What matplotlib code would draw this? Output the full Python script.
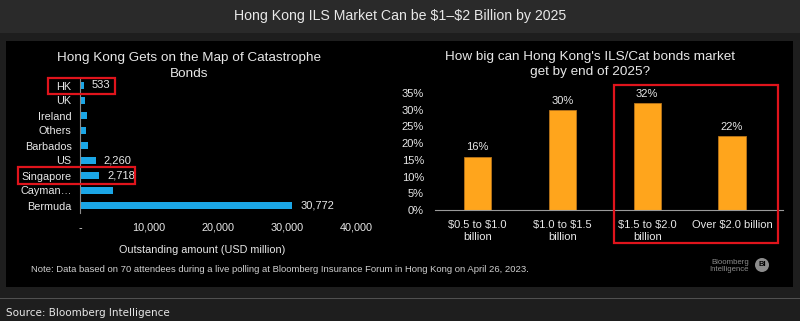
import matplotlib
matplotlib.use("Agg")
import matplotlib.pyplot as plt
from matplotlib.patches import Rectangle, Ellipse
from matplotlib.ticker import FuncFormatter, PercentFormatter

# left chart: outstanding cat bonds by domicile (USD million), top to bottom
domiciles = ["HK", "UK", "Ireland", "Others", "Barbados", "US", "Singapore", "Cayman\u2026", "Bermuda"]
outstanding = [533, 700, 950, 900, 1150, 2260, 2718, 4750, 30772]
labelled = ["HK", "US", "Singapore", "Bermuda"]

# right chart: poll on market size by end of 2025
size_buckets = ["\\$0.5 to \\$1.0\nbillion", "\\$1.0 to \\$1.5\nbillion", "\\$1.5 to \\$2.0\nbillion", "Over \\$2.0 billion"]
poll_share = [0.16, 0.30, 0.32, 0.22]

W, H = 800, 321
FONT = "Liberation Sans"
TXT = "#e8e8e8"
BLUE = "#1ba6e6"
ORANGE = "#ffa51c"
RED = "#e0141c"

plt.rcParams["font.family"] = [FONT, "DejaVu Sans"]


def px(x0, y0, x1, y1):
    """pixel box (top-left origin) -> figure fraction rect"""
    return [x0 / W, 1 - y1 / H, (x1 - x0) / W, (y1 - y0) / H]


fig = plt.figure(figsize=(W / 100, H / 100), dpi=100, facecolor="#1e1e1e")

# header band, black panel, footer separator
fig.patches.append(Rectangle((0, 1 - 33 / H), 1, 33 / H, transform=fig.transFigure,
                             facecolor="#2a2a2a", edgecolor="none", zorder=0))
fig.patches.append(Rectangle((6 / W, 1 - 287 / H), 787 / W, 246 / H, transform=fig.transFigure,
                             facecolor="black", edgecolor="none", zorder=0))
fig.patches.append(Rectangle((0, 1 - 299 / H), 1, 1.5 / H, transform=fig.transFigure,
                             facecolor="#505050", edgecolor="none", zorder=0))

fig.text(0.5, 1 - 16 / H, "Hong Kong ILS Market Can be \\$1\u2013\\$2 Billion by 2025",
         ha="center", va="center", color=TXT, fontsize=10.2)
fig.text(6 / W, 1 - 313 / H, "Source: Bloomberg Intelligence",
         ha="left", va="center", color=TXT, fontsize=7.5, family="DejaVu Sans")

# ---- left: horizontal bars
ax = fig.add_axes(px(80, 78, 356, 213), zorder=2)
ax.set_facecolor("none")
ypos = list(range(len(domiciles)))[::-1]
ax.barh(ypos, outstanding, height=0.42, color=BLUE)
for y, name, v in zip(ypos, domiciles, outstanding):
    if name in labelled:
        ax.annotate(f"{v:,}", (v, y), xytext=(6, 0), textcoords="offset points",
                    ha="left", va="center", color=TXT, fontsize=8)
ax.set_ylim(-0.5, len(domiciles) - 0.5)
ax.set_xlim(0, 40000)
ax.set_yticks(ypos)
ax.set_yticklabels(domiciles)
ax.set_xticks([0, 10000, 20000, 30000, 40000])
ax.xaxis.set_major_formatter(FuncFormatter(lambda v, _: "-" if v == 0 else f"{int(v):,}"))
ax.tick_params(axis="both", length=0, colors=TXT, labelsize=7.8)
ax.tick_params(axis="x", pad=7)
ax.tick_params(axis="y", pad=6)
for s in ["top", "right", "bottom"]:
    ax.spines[s].set_visible(False)
ax.spines["left"].set_color("#8a8a8a")
ax.set_xlabel("Outstanding amount (USD million)", color=TXT, fontsize=7.8)
ax.xaxis.set_label_coords((202 - 80) / 276, -(245 - 213) / 135)
fig.text(189 / W, 1 - 66 / H, "Hong Kong Gets on the Map of Catastrophe\nBonds",
         ha="center", va="center", color=TXT, fontsize=9.7, linespacing=1.35)

# ---- right: vertical bars
ax2 = fig.add_axes(px(435, 93, 783, 210), zorder=2)
ax2.set_facecolor("none")
xs = range(len(size_buckets))
ax2.bar(xs, poll_share, width=0.32, color=ORANGE, edgecolor="#b8741a", linewidth=0.6)
for x, v in zip(xs, poll_share):
    ax2.annotate(f"{v:.0%}", (x, v), xytext=(0, 3), textcoords="offset points",
                 ha="center", va="bottom", color=TXT, fontsize=8)
ax2.set_xlim(-0.5, 3.6)
ax2.set_ylim(0, 0.35)
ax2.set_yticks([i * 0.05 for i in range(8)])
ax2.yaxis.set_major_formatter(PercentFormatter(1.0, decimals=0))
ax2.set_xticks(list(xs))
ax2.set_xticklabels(size_buckets, linespacing=1.25)
ax2.tick_params(axis="both", length=0, colors=TXT, labelsize=8)
ax2.tick_params(axis="x", pad=7)
ax2.tick_params(axis="y", pad=8)
for s in ["top", "right", "left"]:
    ax2.spines[s].set_visible(False)
ax2.spines["bottom"].set_color("#9a9a9a")
fig.text(590 / W, 1 - 64.5 / H, "How big can Hong Kong's ILS/Cat bonds market\nget by end of 2025?",
         ha="center", va="center", color=TXT, fontsize=9.7, linespacing=1.35)

# red highlight boxes
for box in [(48, 78, 115, 94), (18, 167, 135, 184), (614, 85, 778, 243)]:
    r = px(*box)
    fig.patches.append(Rectangle((r[0], r[1]), r[2], r[3], transform=fig.transFigure,
                                 facecolor="none", edgecolor=RED, linewidth=1.6, zorder=5))

fig.text(31 / W, 1 - 269 / H,
         "Note: Data based on 70 attendees during a live polling at Bloomberg Insurance Forum in Hong Kong on April 26, 2023.",
         ha="left", va="center", color="#d0d0d0", fontsize=6.8)

# Bloomberg Intelligence mark
fig.text(749 / W, 1 - 266 / H, "Bloomberg\nIntelligence", ha="right", va="center",
         color="#8c8c8c", fontsize=5.6, linespacing=1.1)
fig.patches.append(Ellipse((762 / W, 1 - 265 / H), 14 / W, 14 / H, transform=fig.transFigure,
                           facecolor="#8c8c8c", edgecolor="none", zorder=3))
fig.text(762 / W, 1 - 265 / H, "BI", ha="center", va="center", color="black",
         fontsize=5.5, fontweight="bold", zorder=4)

fig.savefig("out.png", dpi=100, facecolor=fig.get_facecolor())
